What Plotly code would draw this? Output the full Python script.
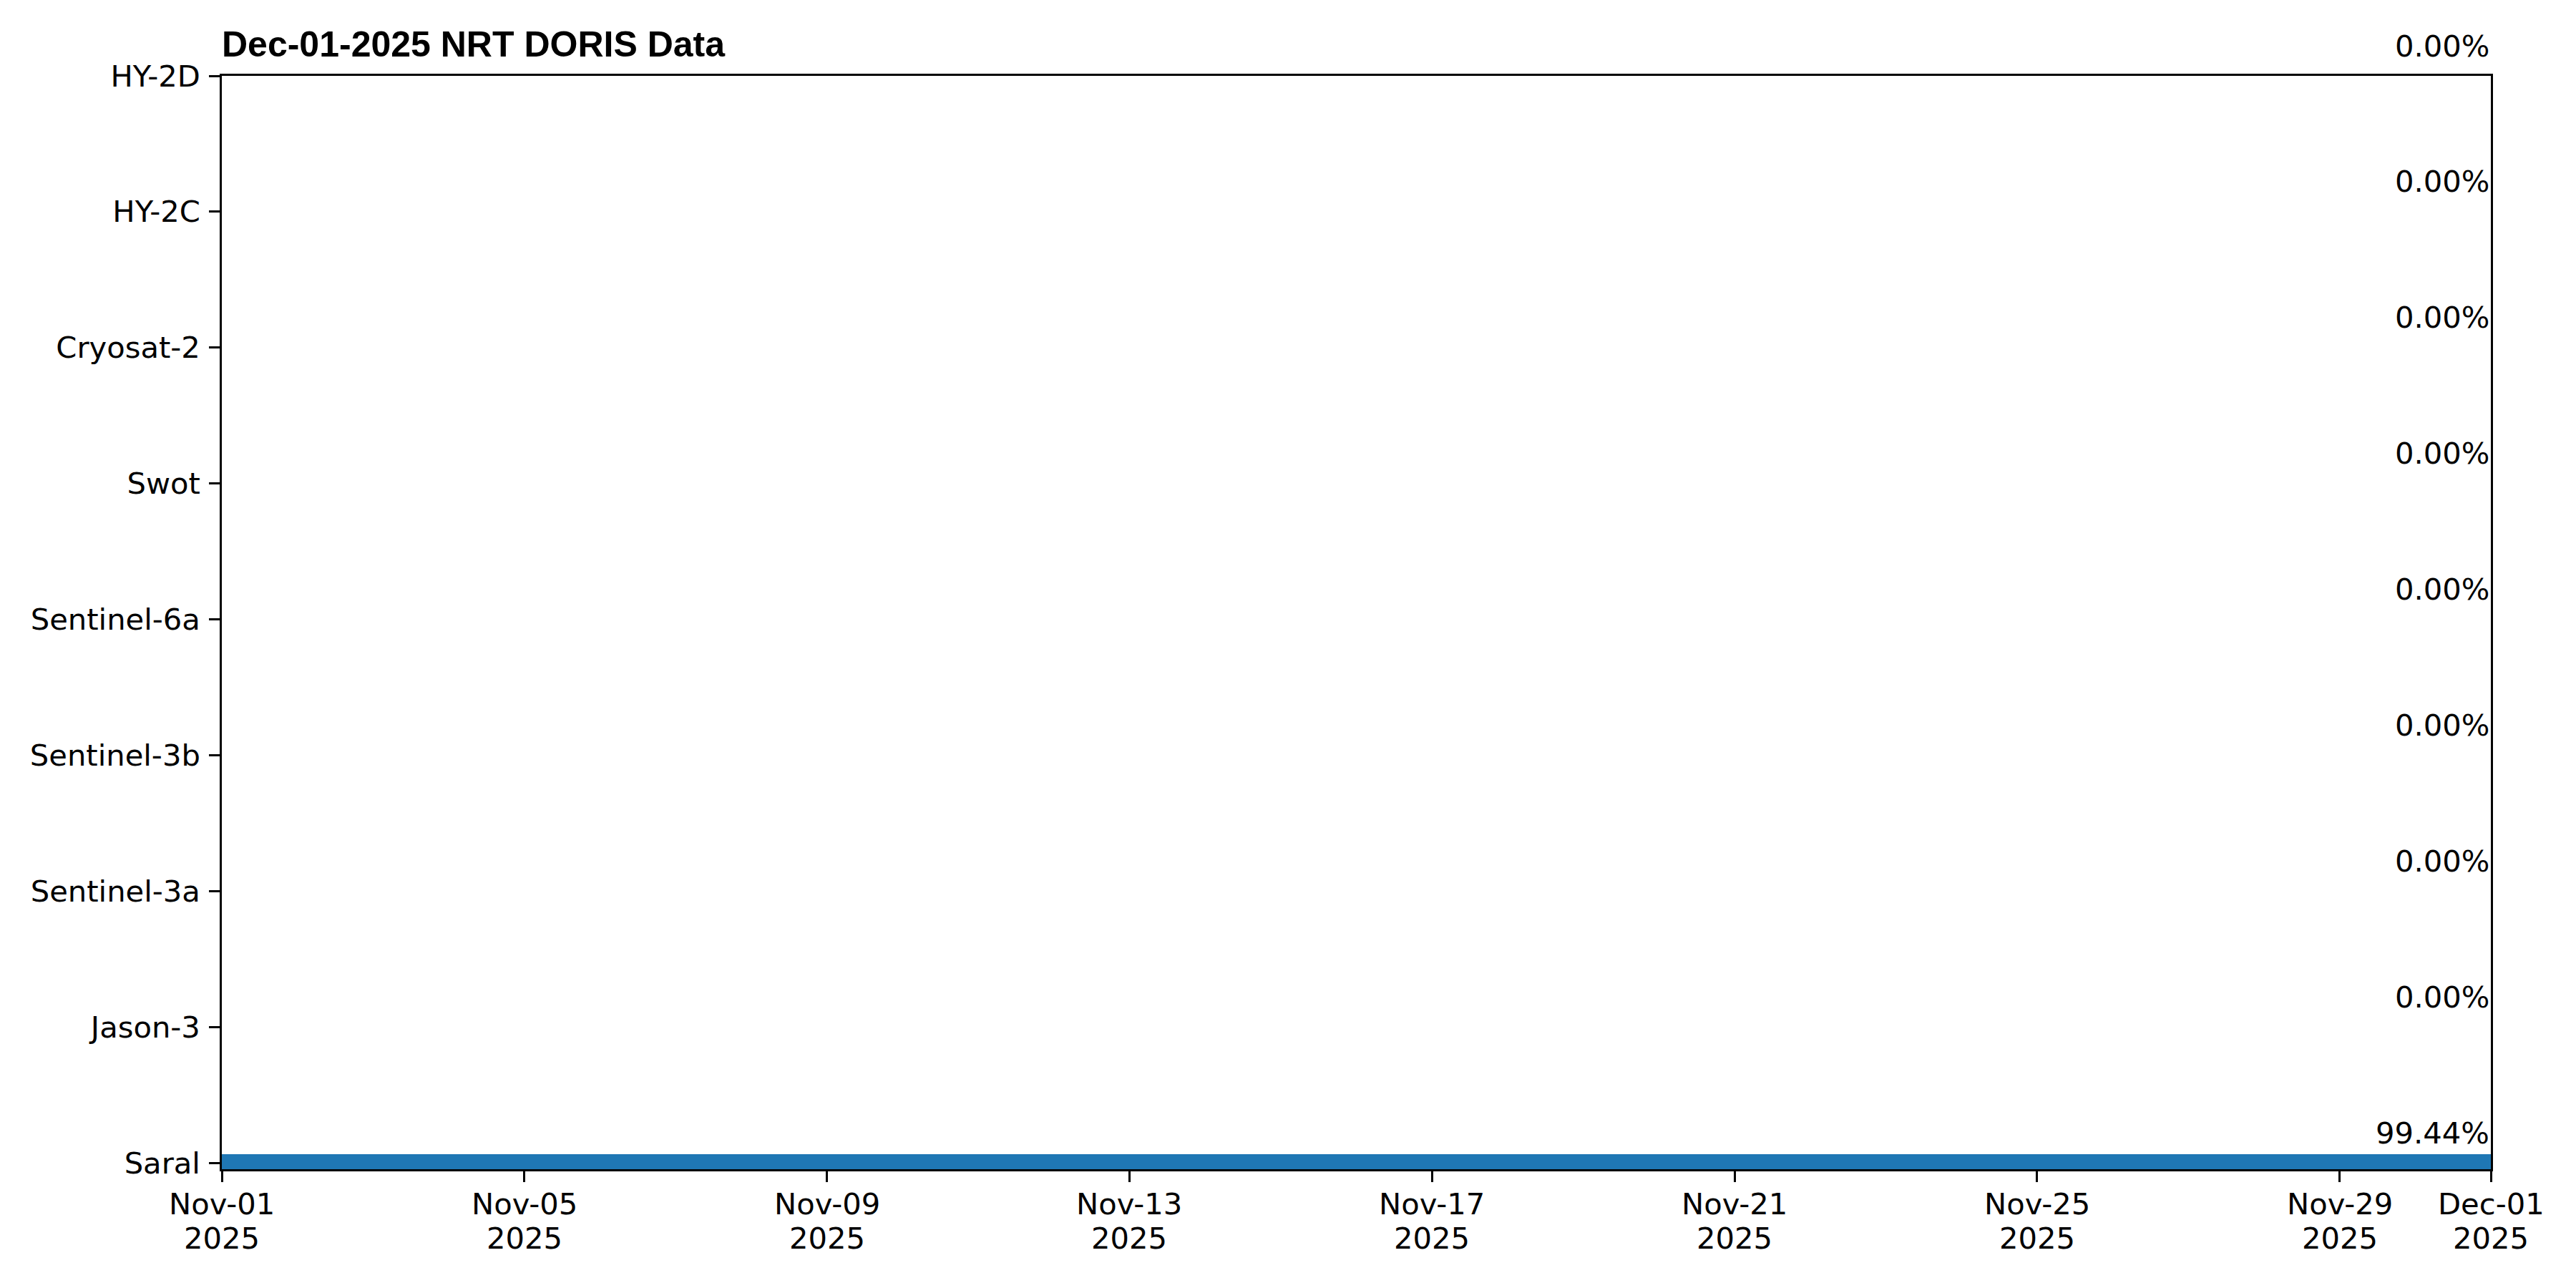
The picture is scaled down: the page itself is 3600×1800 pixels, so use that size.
import plotly.graph_objects as go
import pandas as pd

# ---- data ----
satellites = ["Saral", "Jason-3", "Sentinel-3a", "Sentinel-3b", "Sentinel-6a",
              "Swot", "Cryosat-2", "HY-2C", "HY-2D"]
coverage_pct = [99.44, 0.00, 0.00, 0.00, 0.00, 0.00, 0.00, 0.00, 0.00]

# data segments (satellite, start, end)
seg_sat = ["Saral"]
seg_start = ["2025-11-01 00:00"]
seg_end = ["2025-12-01 00:00"]

x_start = "2025-11-01"
x_end = "2025-12-01"
tick_dates = ["2025-11-01", "2025-11-05", "2025-11-09", "2025-11-13", "2025-11-17",
              "2025-11-21", "2025-11-25", "2025-11-29", "2025-12-01"]
tick_day_labels = ["Nov-01", "Nov-05", "Nov-09", "Nov-13", "Nov-17",
                   "Nov-21", "Nov-25", "Nov-29", "Dec-01"]
tick_year_labels = ["2025"] * len(tick_dates)
title_text = "Dec-01-2025 NRT DORIS Data"

# ---- figure ----
FS = 41.7
LW = 3.3
fig = go.Figure()

ypos = [satellites.index(s) for s in seg_sat]
durations = [(pd.Timestamp(e) - pd.Timestamp(s)).total_seconds() * 1000
             for s, e in zip(seg_start, seg_end)]
fig.add_trace(go.Bar(
    orientation="h",
    y=ypos,
    x=durations,
    base=seg_start,
    width=0.126,
    marker=dict(color="#1f77b4", line=dict(width=0)),
    showlegend=False,
    hoverinfo="skip",
))

for i, (s, p) in enumerate(zip(satellites, coverage_pct)):
    fig.add_annotation(
        x=x_end, y=i, xref="x", yref="y",
        text=f"{p:.2f}%", showarrow=False,
        xanchor="right", yanchor="middle", yshift=42, xshift=0,
        font=dict(family="DejaVu Sans", size=FS, color="black"),
    )

# two-line date tick labels (matplotlib-like line spacing)
for d, l1, l2 in zip(tick_dates, tick_day_labels, tick_year_labels):
    fig.add_annotation(
        x=d, y=0, xref="x", yref="paper", text=l1, showarrow=False,
        xanchor="center", yanchor="middle", yshift=-48,
        font=dict(family="DejaVu Sans", size=FS, color="black"),
    )
    fig.add_annotation(
        x=d, y=0, xref="x", yref="paper", text=l2, showarrow=False,
        xanchor="center", yanchor="middle", yshift=-96,
        font=dict(family="DejaVu Sans", size=FS, color="black"),
    )

# page body has an 8px default margin; compensate so the plot lands where intended
fig.update_layout(
    width=3592, height=1792,
    paper_bgcolor="white", plot_bgcolor="white",
    margin=dict(l=302, r=119, t=98, b=166, pad=0),
    bargap=0,
    title=dict(
        text=f"<b>{title_text}</b>",
        font=dict(family="Liberation Sans, Arial", size=50, color="black"),
        xref="paper", x=0, xanchor="left",
        yref="paper", y=1, yanchor="bottom",
        pad=dict(b=27, l=0, t=0, r=0),
    ),
    font=dict(family="DejaVu Sans", size=FS, color="black"),
)

fig.update_xaxes(
    type="date",
    range=[x_start, x_end],
    tickmode="array", tickvals=tick_dates, showticklabels=False,
    ticks="outside", ticklen=14.6, tickwidth=LW, tickcolor="black",
    showline=True, linecolor="black", linewidth=LW, mirror=True,
    showgrid=False, zeroline=False,
)
fig.update_yaxes(
    range=[-0.047, 8],
    tickmode="array", tickvals=list(range(len(satellites))), ticktext=satellites,
    ticks="outside", ticklen=14.6, tickwidth=LW, tickcolor="black",
    showline=True, linecolor="black", linewidth=LW, mirror=True,
    showgrid=False, zeroline=False,
    tickfont=dict(family="DejaVu Sans", size=FS, color="black"),
    ticklabelstandoff=4,
)

fig.write_html("out.html")
